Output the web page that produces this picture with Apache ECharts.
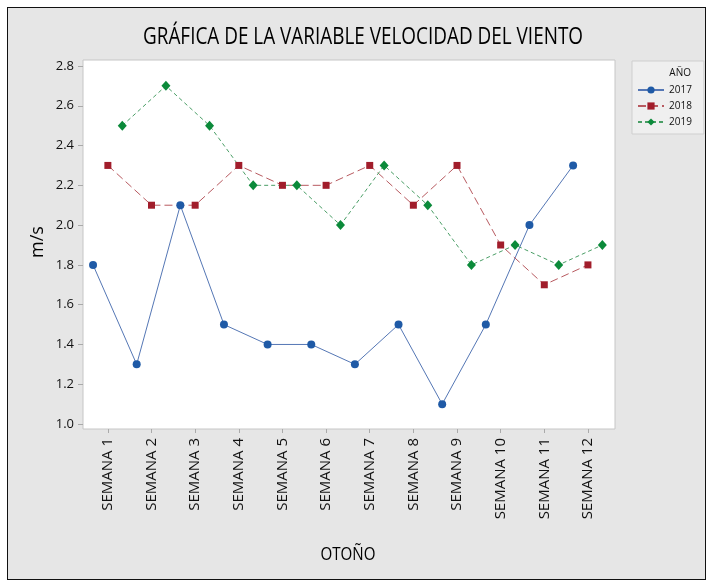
<!DOCTYPE html>
<html lang="es">
<head>
    <meta charset="UTF-8">
    <title>Velocidad del viento</title>
    <script src="https://cdn.jsdelivr.net/npm/echarts@6/dist/echarts.min.js"></script>
    <style>
        body { margin: 0; background: #fff; }
        #frame { position: absolute; left: 7px; top: 7px; width: 697px; height: 571px; border: 1.5px solid #111; background: #e6e6e6; }
        #main { position: absolute; left: 0; top: 0; width: 709px; height: 583px; }
    </style>
</head>
<body>
<div id="frame"></div>
<div id="main"></div>
<script>
    // datos
    var semanas = ['SEMANA 1', 'SEMANA 2', 'SEMANA 3', 'SEMANA 4', 'SEMANA 5', 'SEMANA 6',
        'SEMANA 7', 'SEMANA 8', 'SEMANA 9', 'SEMANA 10', 'SEMANA 11', 'SEMANA 12'];
    var anio2017 = [1.8, 1.3, 2.1, 1.5, 1.4, 1.4, 1.3, 1.5, 1.1, 1.5, 2.0, 2.3];
    var anio2018 = [2.3, 2.1, 2.1, 2.3, 2.2, 2.2, 2.3, 2.1, 2.3, 1.9, 1.7, 1.8];
    var anio2019 = [2.5, 2.7, 2.5, 2.2, 2.2, 2.0, 2.3, 2.1, 1.8, 1.9, 1.8, 1.9];
    var yTicks = [1.0, 1.2, 1.4, 1.6, 1.8, 2.0, 2.2, 2.4, 2.6, 2.8];

    var xTicks = semanas.map(function (s, i) { return i + 1; });

    // puntos desplazados dentro de cada semana
    function puntos(valores, desp) {
        return valores.map(function (v, i) { return [i + 1 + desp, v]; });
    }

    // escala horizontal para textos comprimidos
    function escala(texto, fuente, ancho) {
        var ctx = document.createElement('canvas').getContext('2d');
        ctx.font = fuente;
        return ancho / ctx.measureText(texto).width;
    }

    var titulo = 'GRÁFICA DE LA VARIABLE VELOCIDAD DEL VIENTO';
    var fTitulo = '24px "Open Sans"';
    var fEje = '19px "Open Sans"';

    var myChart = echarts.init(document.getElementById('main'));
    myChart.setOption({
        animation: false,
        textStyle: {fontFamily: '"Open Sans"'},
        grid: {
            left: 83, top: 60, right: 94, bottom: 154,
            show: true, backgroundColor: '#fff', borderColor: '#c6c6c6', borderWidth: 1
        },
        legend: {
            orient: 'vertical',
            left: 632, top: 61,
            padding: [24, 12, 7, 5],
            itemWidth: 26, itemHeight: 9, itemGap: 6,
            backgroundColor: '#efefef',
            borderColor: '#cfcfcf', borderWidth: 1,
            textStyle: {fontSize: 10, color: '#111'},
            data: ['2017', '2018', '2019']
        },
        xAxis: {
            type: 'value',
            min: 0.43, max: 12.62,
            axisLine: {show: false},
            splitLine: {show: false},
            axisTick: {show: true, length: 4, lineStyle: {color: '#aaa'}, customValues: xTicks},
            axisLabel: {
                customValues: xTicks,
                rotate: 90, margin: 9,
                fontSize: 15, color: '#111',
                formatter: function (v) { return semanas[Math.round(v) - 1]; }
            }
        },
        yAxis: {
            type: 'value',
            min: 0.975, max: 2.83,
            axisLine: {show: false},
            splitLine: {show: false},
            axisTick: {show: true, length: 5, lineStyle: {color: '#aaa'}, customValues: yTicks},
            axisLabel: {
                customValues: yTicks,
                margin: 9, fontSize: 13, color: '#111',
                formatter: function (v) { return v.toFixed(1); }
            }
        },
        graphic: [
            {
                type: 'text', x: 363, y: 37,
                scaleX: escala(titulo, fTitulo, 440),
                style: {text: titulo, font: fTitulo, fill: '#000', align: 'center', verticalAlign: 'middle'}
            },
            {
                type: 'text', x: 348, y: 555,
                scaleX: escala('OTOÑO', fEje, 55),
                style: {text: 'OTOÑO', font: fEje, fill: '#000', align: 'center', verticalAlign: 'middle'}
            },
            {
                type: 'text', x: 38, y: 242, rotation: Math.PI / 2,
                style: {text: 'm/s', font: '18px "Open Sans"', fill: '#000', align: 'center', verticalAlign: 'middle'}
            },
            {
                type: 'text', x: 691, y: 73, z: 10,
                style: {text: 'AÑO', font: '10px "Open Sans"', fill: '#111', align: 'right', verticalAlign: 'middle'}
            }
        ],
        series: [
            {
                name: '2017', type: 'line',
                data: puntos(anio2017, -0.34),
                symbol: 'circle', symbolSize: 8,
                itemStyle: {color: '#1f5aa6'},
                lineStyle: {color: '#5577b5', width: 1}
            },
            {
                name: '2018', type: 'line',
                data: puntos(anio2018, 0),
                symbol: 'rect', symbolSize: 7,
                itemStyle: {color: '#a11d2b'},
                lineStyle: {color: '#b85a60', width: 1, type: [8, 4]}
            },
            {
                name: '2019', type: 'line',
                data: puntos(anio2019, 0.33),
                symbol: 'diamond', symbolSize: [9, 10],
                itemStyle: {color: '#0b8a3a'},
                lineStyle: {color: '#4a9e66', width: 1, type: [4, 3]}
            }
        ]
    });
</script>
</body>
</html>
